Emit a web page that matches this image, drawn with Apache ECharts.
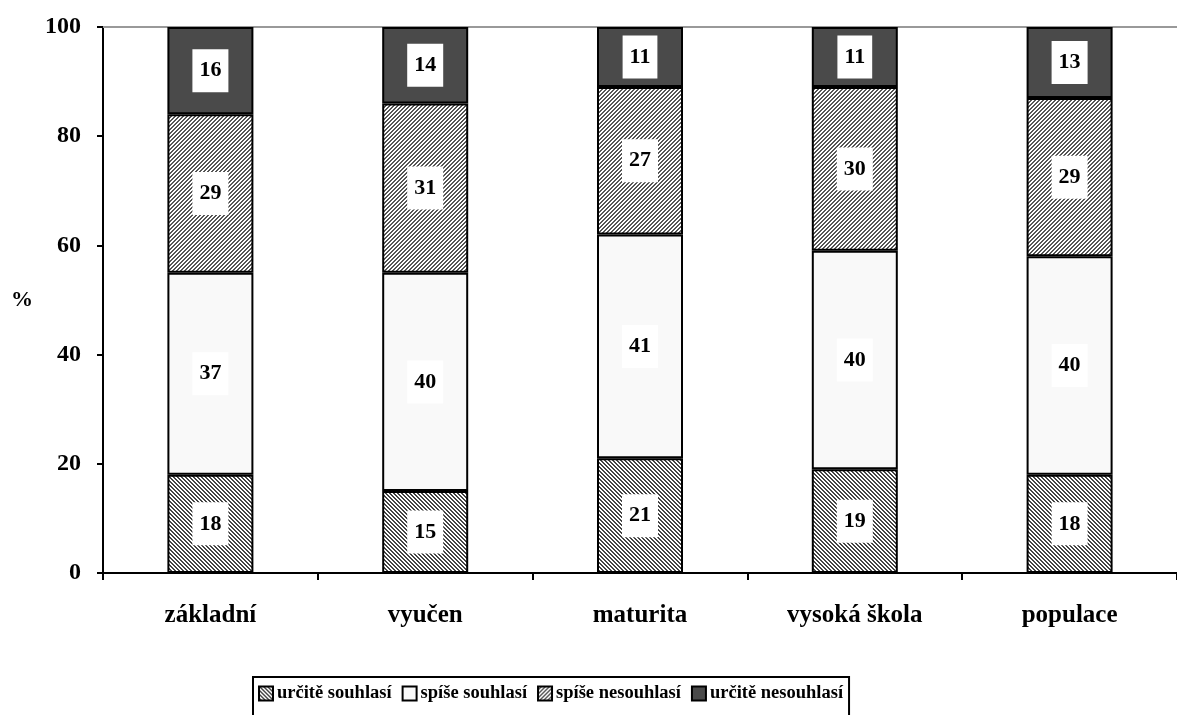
<!DOCTYPE html>
<html><head><meta charset="utf-8">
<script src="https://cdn.jsdelivr.net/npm/echarts@6/dist/echarts.min.js"></script>
<style>html,body{margin:0;padding:0;background:#fff}#c{width:1177px;height:715px}</style>
</head><body><div id="c"></div>
<script>
const categories = ['základní', 'vyučen', 'maturita', 'vysoká škola', 'populace'];
const seriesNames = ['určitě souhlasí', 'spíše souhlasí', 'spíše nesouhlasí', 'určitě nesouhlasí'];
const urciteSouhlasi = [18, 15, 21, 19, 18];
const spiseSouhlasi = [37, 40, 41, 40, 40];
const spiseNesouhlasi = [29, 31, 27, 30, 29];
const urciteNesouhlasi = [16, 14, 11, 11, 13];
const yTicks = [0, 20, 40, 60, 80, 100];

function makePattern(forward, color) {
  const c = document.createElement('canvas');
  c.width = 4; c.height = 4;
  const ctx = c.getContext('2d');
  ctx.fillStyle = '#fff';
  ctx.fillRect(0, 0, 4, 4);
  ctx.fillStyle = color;
  for (let i = 0; i < 4; i++) {
    const x = forward ? 3 - i : i;
    ctx.fillRect(x, i, 1, 1);
    ctx.fillRect((x + (forward ? 3 : 1)) % 4, i, 1, 1);
  }
  return { image: c, repeat: 'repeat' };
}

const font = '"Liberation Serif", "Times New Roman", serif';
const fills = [makePattern(false, '#444'), '#f9f9f9', makePattern(true, '#555'), '#4a4a4a'];
const dataArr = [urciteSouhlasi, spiseSouhlasi, spiseNesouhlasi, urciteNesouhlasi];

const chart = echarts.init(document.getElementById('c'));
chart.setOption({
  animation: false,
  backgroundColor: '#fff',
  grid: { left: 103, top: 27, bottom: 142, right: -9, containLabel: false },
  legend: {
    left: 253, top: 677,
    icon: 'rect',
    itemWidth: 14, itemHeight: 14, itemGap: 10,
    borderColor: '#000', borderWidth: 2,
    padding: [7, 6, 14, 5],
    textStyle: { fontFamily: font, fontWeight: 'bold', fontSize: 18.5, color: '#000', padding: [0, 0, 0, -1] },
    data: seriesNames
  },
  xAxis: [{
    type: 'category', data: categories,
    axisLine: { lineStyle: { color: '#000', width: 2 } },
    axisTick: { show: true, inside: false, length: 7, lineStyle: { color: '#000', width: 2 } },
    axisLabel: { margin: 30, fontFamily: font, fontWeight: 'bold', fontSize: 25, color: '#000' }
  }, {
    type: 'category', data: categories, position: 'top',
    axisLine: { show: true, lineStyle: { color: '#999', width: 2 } },
    axisTick: { show: false }, axisLabel: { show: false }
  }],
  yAxis: {
    type: 'value', min: yTicks[0], max: yTicks[yTicks.length - 1], interval: 20,
    name: '%', nameLocation: 'middle', nameRotate: 0, nameGap: 70,
    nameTextStyle: { fontFamily: font, fontWeight: 'bold', fontSize: 22, color: '#000' },
    axisLine: { show: true, lineStyle: { color: '#000', width: 2 } },
    axisTick: { show: true, length: 6, lineStyle: { color: '#000', width: 2 } },
    splitLine: { show: false },
    axisLabel: { margin: 22, fontFamily: font, fontWeight: 'bold', fontSize: 24, color: '#000' }
  },
  series: seriesNames.map((n, i) => ({
    name: n, type: 'bar', stack: 'total', barWidth: 86,
    data: dataArr[i],
    itemStyle: { color: fills[i], borderColor: '#000', borderWidth: 2 },
    label: {
      show: true, position: 'inside', color: '#000',
      fontFamily: font, fontWeight: 'bold', fontSize: 22,
      backgroundColor: '#fff', padding: [11, 7, 10, 7]
    }
  }))
});
</script></body></html>
